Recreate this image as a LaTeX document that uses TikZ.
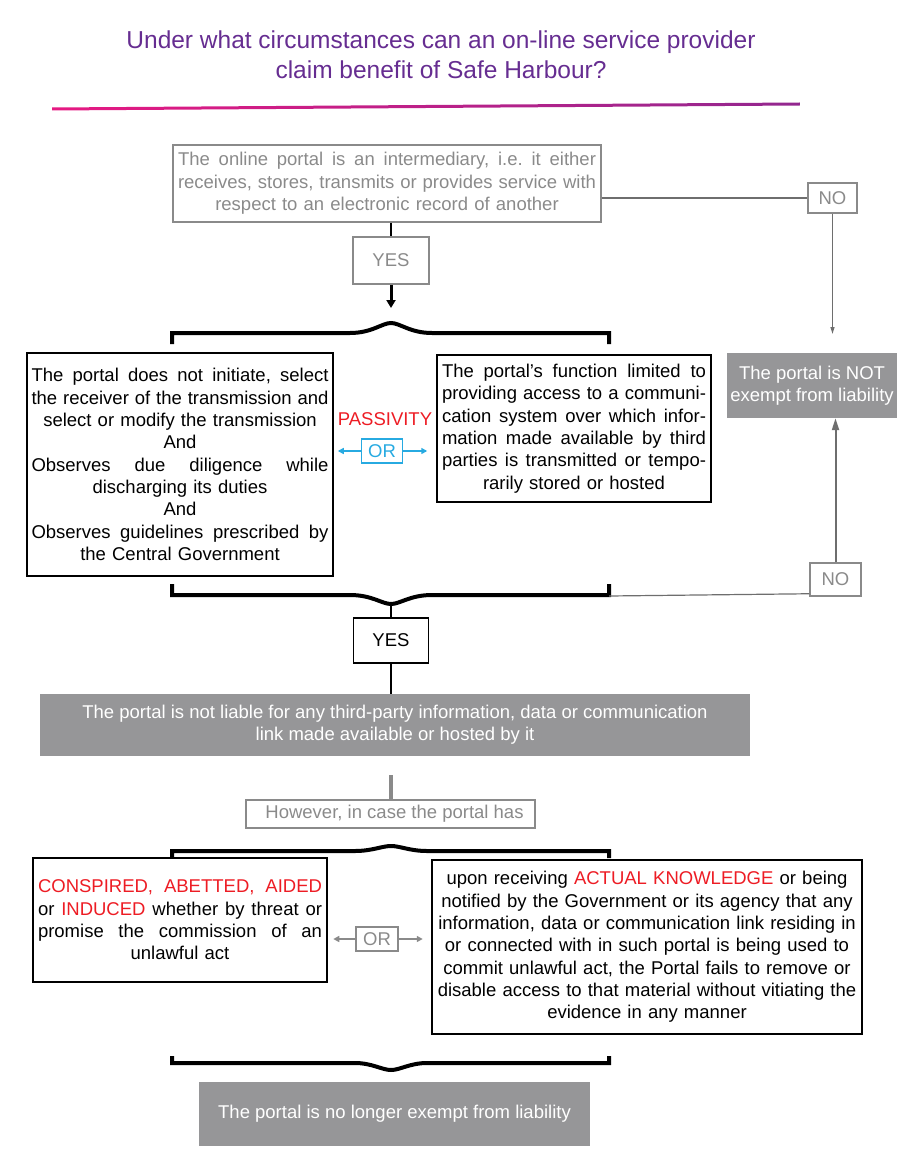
\documentclass[tikz,border=0pt]{standalone}
\usepackage{fontspec}
\setmainfont{Liberation Sans}
\usetikzlibrary{arrows.meta}
\definecolor{Heading}{RGB}{102,45,145}
\definecolor{LineStart}{RGB}{230,25,130}
\definecolor{LineEnd}{RGB}{146,39,143}
\definecolor{Frame}{RGB}{138,138,138}
\definecolor{Panel}{RGB}{150,150,152}
\definecolor{Wire}{RGB}{110,110,110}
\definecolor{Alert}{RGB}{237,28,36}
\definecolor{Sky}{RGB}{39,170,225}
\frenchspacing
\hbadness=10000
\hfuzz=3pt
% a line stretched over the whole text width
\newcommand{\spread}[1]{\makebox[\hsize][s]{\spaceskip=0pt\xspaceskip=0pt #1}}
\tikzset{
  greybox/.style={draw=Frame, line width=1.5pt, text=Frame, align=center},
  blackbox/.style={draw=black, line width=1.5pt, align=center},
  panel/.style={fill=Panel, text=white, align=center},
  brace/.style={line width=4pt}
}
\begin{document}
\begin{tikzpicture}[x=1pt, y=-1pt, font=\fontsize{18.5}{22.3}\selectfont]
\useasboundingbox (0,0) rectangle (914,1174);
% heading
\node[text=Heading, font=\fontsize{24.5}{30}\selectfont, align=center] (title) at (441,55) {Under what circumstances can an on-line service provider\\ claim benefit of Safe Harbour?};
\shade[left color=LineStart, right color=LineEnd] (52,107.5) -- (800,102.5) -- (800,105.5) -- (52,110.5) -- cycle;
% first question
\node[greybox, text width=418pt, inner xsep=5pt, minimum height=77pt] (portal) at (387,183.5) {\spread{The online portal is an intermediary, i.e. it either}\\ \spread{receives, stores, transmits or provides service with}\\ respect to an electronic record of another};
\node[greybox, minimum width=76pt, minimum height=47pt] (yes1) at (391,260.5) {YES};
\node[greybox, minimum width=49pt, minimum height=30pt] (no1) at (832.5,198) {NO};
\node[panel, minimum width=170pt, minimum height=65pt, inner xsep=2pt] (notexempt) at (812,385.5) {The portal is NOT\\ exempt from liability};
\coordinate (arr1) at (391,308);
\coordinate (drop1) at (832.5,334);
\draw[line width=1.5pt] (yes1.north |- portal.south) -- (yes1.north);
\draw[line width=3pt, -{Triangle[length=8pt,width=9pt]}] (yes1.south) -- (arr1);
\draw[Wire, line width=1.5pt] (portal.east |- no1.west) -- (no1.west);
\draw[Wire, line width=1.2pt, -{Triangle[length=7pt,width=4pt]}] (no1.south) -- (drop1);
% passivity
\draw[brace] (172,344) -- (172,333) -- (350,333) .. controls (372,333) and (382,323) .. (391,323) .. controls (400,323) and (410,333) .. (432,333) -- (609,333) -- (609,344);
\node[blackbox, text width=297pt, inner xsep=4.5pt, minimum height=223pt] (duties) at (180,464.5) {\spread{The portal does not initiate, select}\\ \spread{the receiver of the transmission and}\\ select or modify the transmission\\ And\\ \spread{Observes due diligence while}\\ discharging its duties\\ And\\ \spread{Observes guidelines prescribed by}\\ the Central Government};
\node[blackbox, text width=264pt, inner xsep=5pt, minimum height=147pt] (access) at (574,428.5) {\spread{The portal’s function limited to}\\ \spread{providing access to a communi-}\\ \spread{cation system over which infor-}\\ \spread{mation made available by third}\\ \spread{parties is transmitted or tempo-}\\ rarily stored or hosted};
\node[text=Alert] (passive) at (385,419.5) {PASSIVITY};
\node[draw=Sky, line width=1.5pt, text=Sky, minimum width=41pt, minimum height=24pt] (or1) at (382,451) {OR};
\draw[Sky, line width=1.5pt, -{Triangle[length=6pt,width=6pt]}] (or1.west) -- ++(-23,0);
\draw[Sky, line width=1.5pt, -{Triangle[length=6pt,width=6pt]}] (or1.east) -- ++(24,0);
% outcome
\draw[brace] (172,584) -- (172,595) -- (350,595) .. controls (372,595) and (382,604) .. (391,604) .. controls (400,604) and (410,595) .. (432,595) -- (609,595) -- (609,584);
\coordinate (b2m) at (391,604);
\coordinate (b2r) at (609,596);
\node[greybox, minimum width=51pt, minimum height=33pt] (no2) at (835.5,579.5) {NO};
\draw[Wire, line width=1.2pt] (b2r) -- ([yshift=3pt]no2.south west);
\draw[Wire, line width=2pt, -{Triangle[length=12pt,width=7pt]}] (no2.north) -- (no2.north |- notexempt.south);
\node[blackbox, minimum width=75pt, minimum height=45pt] (yes2) at (391,640.5) {YES};
\node[panel, minimum width=710pt, minimum height=62pt] (liable) at (395,725) {The portal is not liable for any third-party information, data or communication\\ link made available or hosted by it};
\draw[line width=1.5pt] (b2m) -- (yes2.north);
\draw[line width=1.5pt] (yes2.south) -- (yes2.south |- liable.north);
% exception
\coordinate (stub) at (391,775);
\node[greybox, minimum width=289pt, minimum height=28pt, inner ysep=1pt] (however) at (390.5,814) {\hspace{8pt}However, in case the portal has};
\draw[Frame, line width=4pt] (stub) -- (stub |- however.north);
\draw[brace] (172,858) -- (172,851) -- (355,851) .. controls (372,851) and (382,846) .. (391,846) .. controls (400,846) and (410,851) .. (427,851) -- (609,851) -- (609,858);
\node[blackbox, text width=284pt, inner xsep=5pt, minimum height=124pt] (abet) at (180,920) {\spread{\textcolor{Alert}{CONSPIRED, ABETTED, AIDED}}\\ \spread{or \textcolor{Alert}{INDUCED} whether by threat or}\\ \spread{promise the commission of an}\\ unlawful act};
\node[blackbox, text width=420pt, inner xsep=5pt, minimum height=174pt] (notice) at (647,947) {upon receiving \textcolor{Alert}{ACTUAL KNOWLEDGE} or being\\ notified by the Government or its agency that any\\ information, data or communication link residing in\\ or connected with in such portal is being used to\\ commit unlawful act, the Portal fails to remove or\\ disable access to that material without vitiating the\\ evidence in any manner};
\node[greybox, minimum width=42pt, minimum height=24pt] (or2) at (377,939) {OR};
\draw[Frame, line width=1.5pt, -{Triangle[length=6pt,width=6pt]}] (or2.west) -- ++(-22,0);
\draw[Frame, line width=1.5pt, -{Triangle[length=6pt,width=6pt]}] (or2.east) -- ++(24,0);
\draw[brace] (172,1056) -- (172,1063) -- (355,1063) .. controls (372,1063) and (382,1070) .. (391,1070) .. controls (400,1070) and (410,1063) .. (427,1063) -- (609,1063) -- (609,1056);
\node[panel, minimum width=391pt, minimum height=64pt] (nolonger) at (394.5,1114) {The portal is no longer exempt from liability};
\end{tikzpicture}
\end{document}
